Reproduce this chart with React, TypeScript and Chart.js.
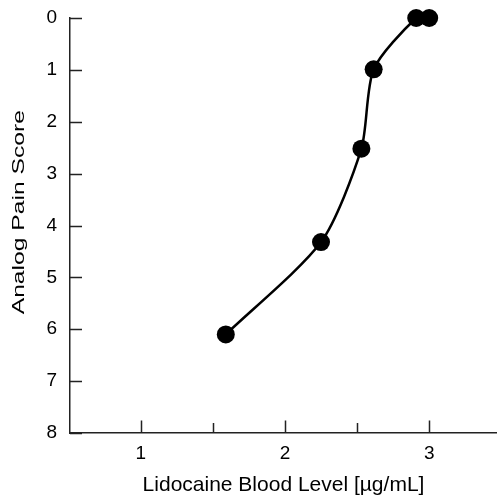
import React, { useEffect, useRef } from "react";
import { Chart, registerables } from "chart.js";

Chart.register(...registerables);

// Data
const bloodLevels = [1.59, 2.25, 2.53, 2.615, 2.91, 3.0];
const painScores = [6.1, 4.32, 2.52, 0.99, 0.0, 0.0];
const xTickValues = [1, 1.5, 2, 2.5, 3];
const yTickValues = [0, 1, 2, 3, 4, 5, 6, 7, 8];
const xTitle = "Lidocaine Blood Level [\u00b5g/mL]";
const yTitle = "Analog Pain Score";

const FONT = '"Liberation Sans", Arial, Helvetica, sans-serif';
const AXIS_COLOR = "#222";

const tickPlugin = {
  id: "innerTicks",
  afterDraw(chart: any) {
    const { ctx, chartArea, scales } = chart;
    const xs = scales.x;
    const ys = scales.y;
    ctx.save();
    ctx.strokeStyle = AXIS_COLOR;
    ctx.lineWidth = 1.5;
    ctx.beginPath();
    yTickValues.forEach((v) => {
      const py = Math.round(ys.getPixelForValue(v)) + 0.5;
      ctx.moveTo(chartArea.left, py);
      ctx.lineTo(chartArea.left + 12, py);
    });
    xTickValues.forEach((v) => {
      const px = Math.round(xs.getPixelForValue(v)) + 0.5;
      const len = Number.isInteger(v) ? 12.5 : 10;
      ctx.moveTo(px, chartArea.bottom);
      ctx.lineTo(px, chartArea.bottom - len);
    });
    ctx.stroke();

    // y-axis title
    const cy = chartArea.top + 0.468 * (chartArea.bottom - chartArea.top);
    ctx.translate(19, cy);
    ctx.rotate(-Math.PI / 2);
    ctx.scale(1.45, 1);
    ctx.fillStyle = "#000";
    ctx.font = `17px ${FONT}`;
    ctx.textAlign = "center";
    ctx.textBaseline = "middle";
    ctx.fillText(yTitle, 0, 0);
    ctx.restore();
  },
};

const zeroPadding = (scale: any) => {
  scale.paddingTop = 0;
  scale.paddingBottom = 0;
  scale.paddingLeft = 0;
  scale.paddingRight = 0;
};

export default function App() {
  const canvasRef = useRef<HTMLCanvasElement | null>(null);

  useEffect(() => {
    if (!canvasRef.current) return;
    const chart = new Chart(canvasRef.current, {
      type: "line",
      data: {
        datasets: [
          {
            data: bloodLevels.map((x, i) => ({ x, y: painScores[i] })),
            borderColor: "#000",
            backgroundColor: "#000",
            borderWidth: 2.5,
            pointRadius: 9,
            pointHoverRadius: 9,
            pointBackgroundColor: "#000",
            pointBorderColor: "#000",
            pointBorderWidth: 0,
            tension: 0.25,
            fill: false,
            clip: false as any,
          },
        ],
      },
      options: {
        animation: false,
        responsive: false,
        maintainAspectRatio: false,
        devicePixelRatio: 1,
        layout: {
          autoPadding: false,
          padding: { top: 18, left: 0, right: 0, bottom: 0 },
        },
        plugins: {
          legend: { display: false },
          tooltip: { enabled: false },
        },
        scales: {
          x: {
            type: "linear",
            min: 0.51,
            max: 3.47,
            grid: { display: false, drawTicks: false },
            border: { display: true, color: AXIS_COLOR, width: 1.5 },
            afterBuildTicks: (scale: any) => {
              scale.ticks = xTickValues.map((value) => ({ value }));
            },
            afterFit: (scale: any) => {
              scale.height = 65;
              zeroPadding(scale);
            },
            ticks: {
              autoSkip: false,
              maxRotation: 0,
              color: "#000",
              padding: 9,
              font: { family: FONT, size: 19 },
              callback: (value: any) =>
                Number.isInteger(Number(value)) ? String(value) : "",
            },
            title: {
              display: true,
              text: xTitle,
              color: "#000",
              font: { family: FONT, size: 21 },
              padding: { top: 0, bottom: 0 },
            },
          },
          y: {
            type: "linear",
            reverse: true,
            min: 0,
            max: 8,
            grid: { display: false, drawTicks: false },
            border: { display: true, color: AXIS_COLOR, width: 1.5 },
            afterBuildTicks: (scale: any) => {
              scale.ticks = yTickValues.map((value) => ({ value }));
            },
            afterFit: (scale: any) => {
              scale.width = 70;
              zeroPadding(scale);
            },
            ticks: {
              color: "#000",
              padding: 13,
              font: { family: FONT, size: 19 },
            },
          },
        },
      },
      plugins: [tickPlugin],
    } as any);
    return () => chart.destroy();
  }, []);

  return (
    <div
      style={{
        position: "fixed",
        left: 0,
        top: 0,
        width: 497,
        height: 498,
        background: "#fff",
      }}
    >
      <canvas
        ref={canvasRef}
        width={497}
        height={498}
        style={{ display: "block", width: 497, height: 498 }}
      />
    </div>
  );
}
